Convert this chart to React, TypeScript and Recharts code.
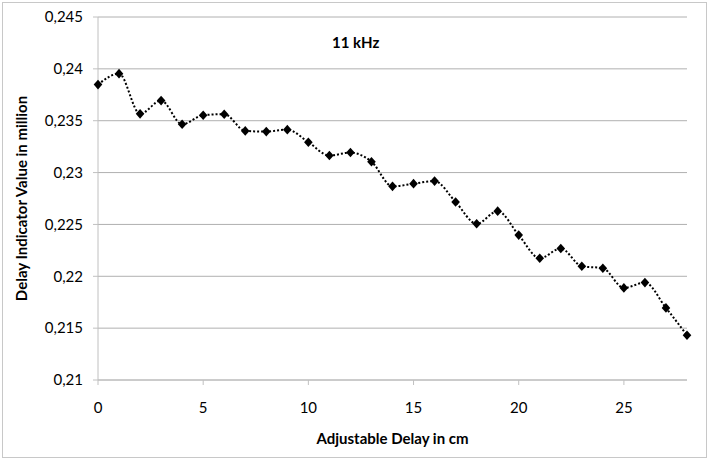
import { LineChart, Line, XAxis, YAxis, CartesianGrid } from 'recharts';

const delayCm = [
  0, 1, 2, 3, 4, 5, 6, 7, 8, 9, 10, 11, 12, 13, 14, 15, 16, 17, 18, 19, 20, 21, 22, 23, 24, 25, 26, 27, 28,
];
const indicatorValues = [
  0.23848, 0.23954, 0.23566, 0.23694, 0.23466, 0.23553, 0.23563, 0.23402, 0.23395, 0.23414,
  0.23293, 0.23164, 0.23193, 0.23105, 0.22867, 0.22893, 0.22918, 0.22716, 0.22506, 0.22628,
  0.22397, 0.22174, 0.22268, 0.22097, 0.22078, 0.21888, 0.21939, 0.21695, 0.21431,
];
const xTicks = [0, 5, 10, 15, 20, 25];
const yTicks = [0.21, 0.215, 0.22, 0.225, 0.23, 0.235, 0.24, 0.245];

const data = delayCm.map((x, i) => ({ x, value: indicatorValues[i] }));

const FONT = 'Lato, "Open Sans", sans-serif';
const fmt = (v: number) => String(Number(v.toFixed(3))).replace('.', ',');

const Diamond = (props: any) => {
  const { cx, cy } = props;
  if (cx == null || cy == null) return null;
  return (
    <path
      d={`M${cx},${cy - 4.8}L${cx + 4.3},${cy}L${cx},${cy + 4.8}L${cx - 4.3},${cy}Z`}
      fill="#000"
    />
  );
};

export default function App() {
  return (
    <div
      style={{
        position: 'absolute',
        left: 0,
        top: 0,
        width: 709,
        height: 460,
        background: '#fff',
        fontFamily: FONT,
      }}
    >
      <div
        style={{
          position: 'absolute',
          left: 2,
          top: 2,
          width: 703,
          height: 454,
          border: '1px solid #c8c8c8',
        }}
      />
      <LineChart
        width={709}
        height={460}
        data={data}
        margin={{ top: 17, right: 22, left: 0, bottom: 8 }}
      >
        <CartesianGrid vertical={false} stroke="#b0b0b0" strokeWidth={1} />
        <XAxis
          dataKey="x"
          type="number"
          domain={[0, 28]}
          ticks={xTicks}
          height={72}
          tickSize={5}
          tickMargin={17}
          stroke="#c0c0c0"
          tick={{ fill: '#000', fontSize: 15, fontFamily: FONT }}
          label={{
            value: 'Adjustable Delay in cm',
            position: 'insideBottom',
            offset: 8,
            style: { fontFamily: FONT, fontWeight: 700, fontSize: 15, fill: '#000' },
          }}
        />
        <YAxis
          type="number"
          domain={[0.21, 0.245]}
          ticks={yTicks}
          width={98}
          tickSize={5}
          tickMargin={10}
          tickFormatter={fmt}
          stroke="#c0c0c0"
          tick={{ fill: '#000', fontSize: 15, fontFamily: FONT }}
          label={{
            value: 'Delay Indicator Value in million',
            angle: -90,
            position: 'insideLeft',
            offset: 22,
            style: {
              textAnchor: 'middle',
              fontFamily: FONT,
              fontWeight: 700,
              fontSize: 15,
              fill: '#000',
            },
          }}
        />
        <Line
          type="monotone"
          dataKey="value"
          stroke="#000"
          strokeWidth={2}
          strokeDasharray="2 2"
          dot={<Diamond />}
          activeDot={false}
          isAnimationActive={false}
        />
      </LineChart>
      <div
        style={{
          position: 'absolute',
          left: 332,
          top: 33,
          fontSize: 15,
          fontWeight: 700,
          color: '#000',
          fontFamily: FONT,
        }}
      >
        11 kHz
      </div>
    </div>
  );
}
